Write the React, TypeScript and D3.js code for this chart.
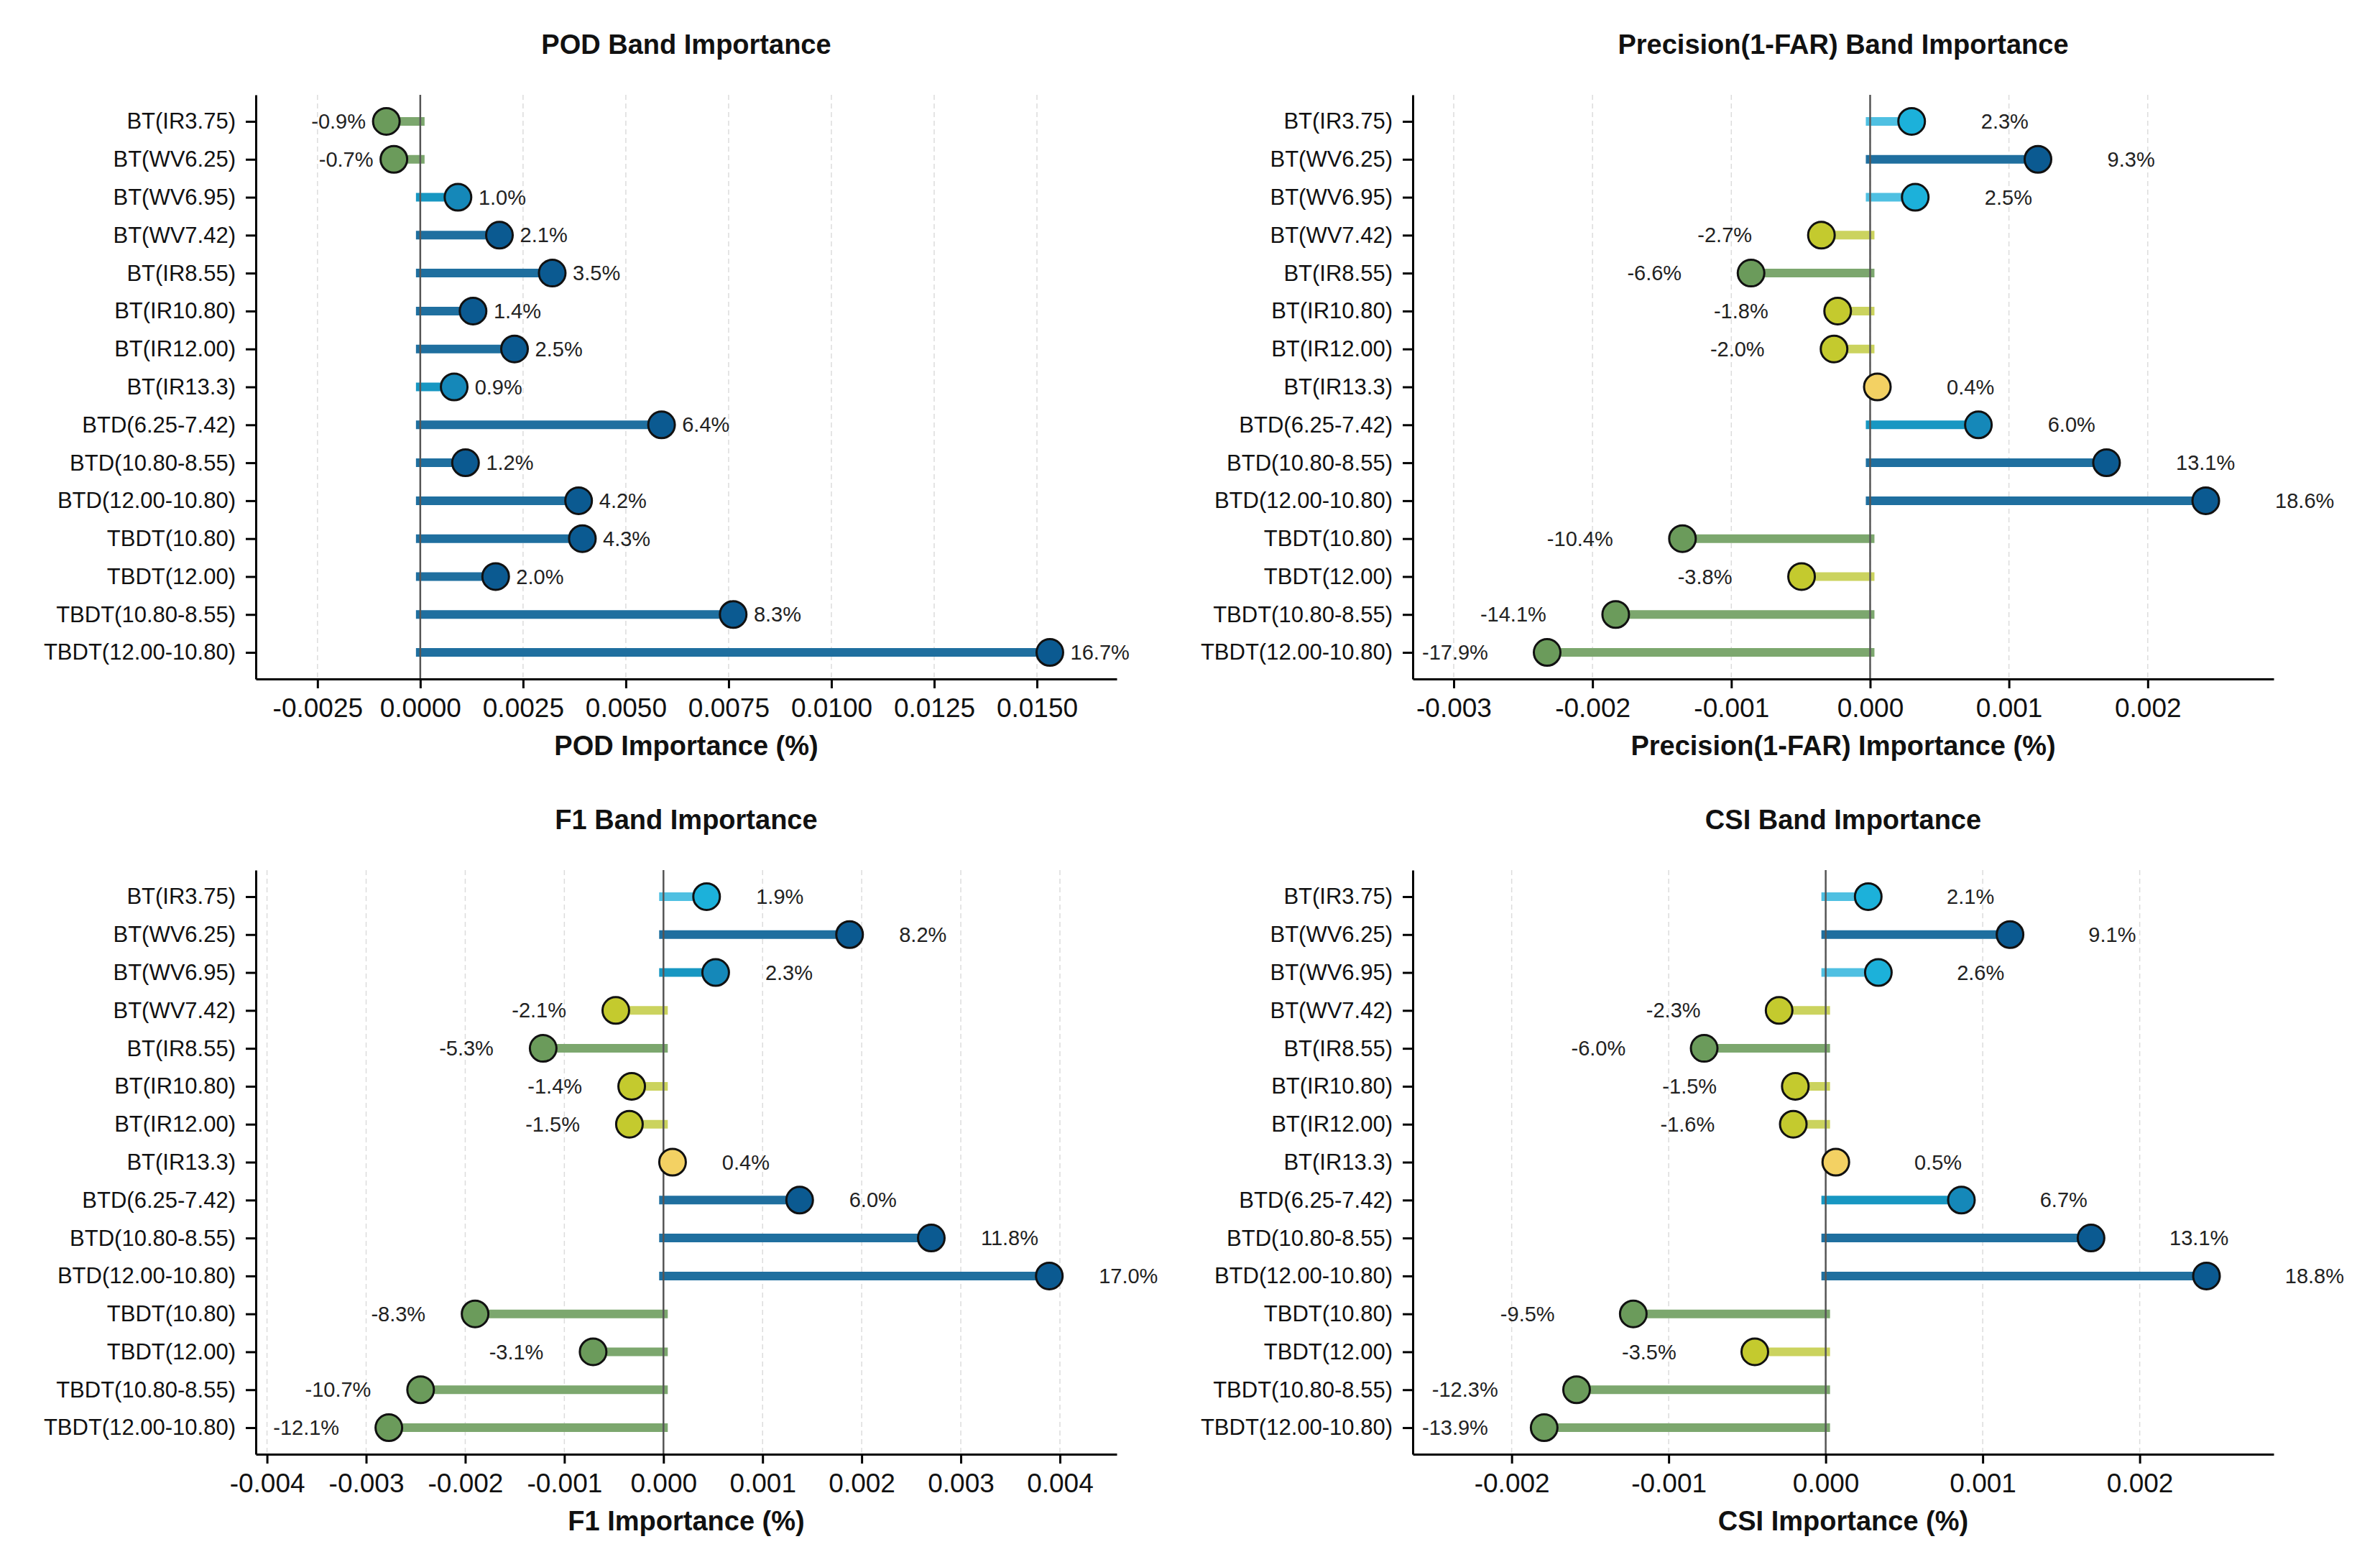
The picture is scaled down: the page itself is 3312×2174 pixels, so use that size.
import React, { useEffect, useRef } from "react";
import * as d3 from "d3";

// Input bands, top to bottom
const bands = [
    "BT(IR3.75)",
    "BT(WV6.25)",
    "BT(WV6.95)",
    "BT(WV7.42)",
    "BT(IR8.55)",
    "BT(IR10.80)",
    "BT(IR12.00)",
    "BT(IR13.3)",
    "BTD(6.25-7.42)",
    "BTD(10.80-8.55)",
    "BTD(12.00-10.80)",
    "TBDT(10.80)",
    "TBDT(12.00)",
    "TBDT(10.80-8.55)",
    "TBDT(12.00-10.80)",
];

// Relative importance of each band (% of the metric's base score)
const podPct = [-0.9, -0.7, 1.0, 2.1, 3.5, 1.4, 2.5, 0.9, 6.4, 1.2, 4.2, 4.3, 2.0, 8.3, 16.7];
const precisionPct = [2.3, 9.3, 2.5, -2.7, -6.6, -1.8, -2.0, 0.4, 6.0, 13.1, 18.6, -10.4, -3.8, -14.1, -17.9];
const f1Pct = [1.9, 8.2, 2.3, -2.1, -5.3, -1.4, -1.5, 0.4, 6.0, 11.8, 17.0, -8.3, -3.1, -10.7, -12.1];
const csiPct = [2.1, 9.1, 2.6, -2.3, -6.0, -1.5, -1.6, 0.5, 6.7, 13.1, 18.8, -9.5, -3.5, -12.3, -13.9];

// Base scores the percentages refer to (importance = pct / 100 * base)
const podBase = 0.0917;
const precisionBase = 0.013;
const f1Base = 0.0229;
const csiBase = 0.0129;

// x tick values
const podTicks = [-0.0025, 0, 0.0025, 0.005, 0.0075, 0.01, 0.0125, 0.015];
const precisionTicks = [-0.003, -0.002, -0.001, 0, 0.001, 0.002];
const f1Ticks = [-0.004, -0.003, -0.002, -0.001, 0, 0.001, 0.002, 0.003, 0.004];
const csiTicks = [-0.002, -0.001, 0, 0.001, 0.002];

const WIDTH = 3312;
const HEIGHT = 2174;
const PANEL_W = 1198;
const PANEL_H = 813;
const FONT = "'Liberation Sans', Arial, Helvetica, sans-serif";
const LABEL_OFFSET = 0.0005;

const panels = [
    { title: "POD Band Importance", xLabel: "POD Importance (%)", pct: podPct, base: podBase,
      ticks: podTicks, digits: 4, xDomain: [-0.004, 0.01694], left: 356, top: 132 },
    { title: "Precision(1-FAR) Band Importance", xLabel: "Precision(1-FAR) Importance (%)", pct: precisionPct, base: precisionBase,
      ticks: precisionTicks, digits: 3, xDomain: [-0.003295, 0.002907], left: 1966, top: 132 },
    { title: "F1 Band Importance", xLabel: "F1 Importance (%)", pct: f1Pct, base: f1Base,
      ticks: f1Ticks, digits: 3, xDomain: [-0.004113, 0.004573], left: 356, top: 1211 },
    { title: "CSI Band Importance", xLabel: "CSI Importance (%)", pct: csiPct, base: csiBase,
      ticks: csiTicks, digits: 3, xDomain: [-0.00263, 0.002853], left: 1966, top: 1211 },
];

// colour tiers by raw importance
const tierColor = (v) => {
    if (v > 0.001) return { dot: "#0b5a91", stem: "#1f6f9f" };
    if (v > 0.0005) return { dot: "#1588b9", stem: "#1797c2" };
    if (v > 0.0001) return { dot: "#1cb1da", stem: "#4fc0e2" };
    if (v >= 0) return { dot: "#f3d163", stem: "#f3d67a" };
    if (v >= -0.0005) return { dot: "#c4ca2e", stem: "#cbd35e" };
    return { dot: "#6b9b5b", stem: "#7ca76e" };
};

const drawPanel = (svg, p) => {
    const values = p.pct.map(d => (d / 100) * p.base);

    const x = d3.scaleLinear().domain(p.xDomain).range([0, PANEL_W]);
    const y = d3.scaleLinear().domain([-0.7, bands.length - 0.3]).range([0, PANEL_H]);

    const g = svg.append("g")
        .attr("transform", `translate(${p.left},${p.top})`)
        .style("font-family", FONT);

    // dashed vertical grid
    g.append("g")
        .selectAll("line")
        .data(p.ticks)
        .enter()
        .append("line")
        .attr("x1", d => x(d))
        .attr("x2", d => x(d))
        .attr("y1", 0)
        .attr("y2", PANEL_H)
        .attr("stroke", "#dcdcdc")
        .attr("stroke-width", 1.5)
        .attr("stroke-dasharray", "7,5");

    // stems
    g.append("g")
        .selectAll("line")
        .data(values)
        .enter()
        .append("line")
        .attr("x1", x(0))
        .attr("x2", d => x(d))
        .attr("y1", (d, i) => y(i))
        .attr("y2", (d, i) => y(i))
        .attr("stroke", d => tierColor(d).stem)
        .attr("stroke-width", 12)
        .attr("stroke-linecap", "square");

    // zero reference line
    g.append("line")
        .attr("x1", x(0))
        .attr("x2", x(0))
        .attr("y1", 0)
        .attr("y2", PANEL_H)
        .attr("stroke", "#555")
        .attr("stroke-width", 2.5);

    // x axis
    const xAxis = g.append("g")
        .attr("transform", `translate(0,${PANEL_H})`)
        .call(d3.axisBottom(x)
            .tickValues(p.ticks)
            .tickFormat(d => d.toFixed(p.digits))
            .tickSize(13)
            .tickSizeOuter(0)
            .tickPadding(14));
    xAxis.select(".domain").attr("stroke", "#000").attr("stroke-width", 3);
    xAxis.selectAll(".tick line").attr("stroke", "#000").attr("stroke-width", 3);
    xAxis.selectAll(".tick text")
        .attr("fill", "#111")
        .style("font-size", "37px")
        .style("font-family", FONT);

    // y axis
    const yAxis = g.append("g")
        .call(d3.axisLeft(y)
            .tickValues(d3.range(bands.length))
            .tickFormat(i => bands[i])
            .tickSize(14)
            .tickSizeOuter(0)
            .tickPadding(14));
    yAxis.select(".domain").attr("stroke", "#000").attr("stroke-width", 3);
    yAxis.selectAll(".tick line").attr("stroke", "#000").attr("stroke-width", 3);
    yAxis.selectAll(".tick text")
        .attr("fill", "#111")
        .style("font-size", "31px")
        .style("font-family", FONT);

    // dots
    g.append("g")
        .selectAll("circle")
        .data(values)
        .enter()
        .append("circle")
        .attr("cx", d => x(d))
        .attr("cy", (d, i) => y(i))
        .attr("r", 18.5)
        .attr("fill", d => tierColor(d).dot)
        .attr("stroke", "#111")
        .attr("stroke-width", 3);

    // value labels, pulled inside the axes if they would cross the left spine
    const labels = g.append("g")
        .selectAll("text")
        .data(values)
        .enter()
        .append("text")
        .attr("x", d => x(d + (d >= 0 ? LABEL_OFFSET : -LABEL_OFFSET)))
        .attr("y", (d, i) => y(i))
        .attr("dy", "0.35em")
        .attr("text-anchor", d => (d >= 0 ? "start" : "end"))
        .attr("fill", "#222")
        .style("font-size", "29px")
        .text((d, i) => `${p.pct[i].toFixed(1)}%`);

    labels.each(function (d) {
        if (d >= 0) return;
        const el = this;
        const w = el.getComputedTextLength();
        const xEnd = x(d - LABEL_OFFSET);
        if (xEnd - w < 13) {
            d3.select(el).attr("x", 13).attr("text-anchor", "start");
        }
    });

    // title and axis label
    g.append("text")
        .attr("x", PANEL_W / 2)
        .attr("y", -57)
        .attr("text-anchor", "middle")
        .attr("font-weight", "bold")
        .attr("fill", "#111")
        .style("font-size", "38px")
        .text(p.title);

    g.append("text")
        .attr("x", PANEL_W / 2)
        .attr("y", PANEL_H + 106)
        .attr("text-anchor", "middle")
        .attr("font-weight", "bold")
        .attr("fill", "#111")
        .style("font-size", "38px")
        .text(p.xLabel);
};

const App = () => {
    const svgRef = useRef(null);

    useEffect(() => {
        const svg = d3.select(svgRef.current);
        svg.selectAll("*").remove();

        svg.append("rect")
            .attr("width", WIDTH)
            .attr("height", HEIGHT)
            .attr("fill", "#fff");

        panels.forEach(p => drawPanel(svg, p));
    }, []);

    return (
        <svg
            ref={svgRef}
            width={WIDTH}
            height={HEIGHT}
            style={{ position: "absolute", left: 0, top: 0, display: "block" }}
        />
    );
};

export default App;
